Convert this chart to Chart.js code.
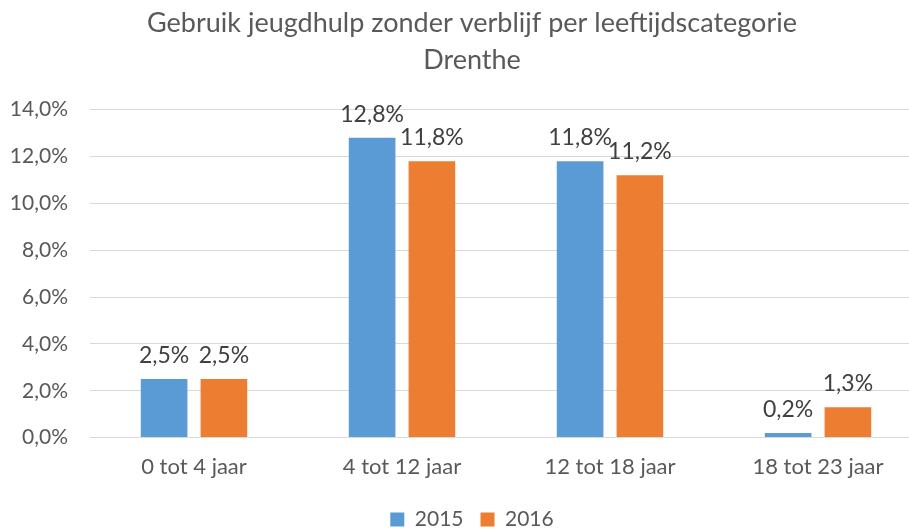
<!DOCTYPE html>
<html>
<head>
<meta charset="utf-8">
<script src="https://cdn.jsdelivr.net/npm/chart.js@4"></script>
<style>
  html, body { margin: 0; padding: 0; background: #fff; overflow: hidden; }
  .wrap { width: 944px; height: 531px; }
</style>
</head>
<body>
<div class="wrap"><canvas id="myChart"></canvas></div>
<script>
const categories = ['0 tot 4 jaar', '4 tot 12 jaar', '12 tot 18 jaar', '18 tot 23 jaar'];
const values2015 = [2.5, 12.8, 11.8, 0.2];
const values2016 = [2.5, 11.8, 11.2, 1.3];
const yTicks = [0, 2, 4, 6, 8, 10, 12, 14];

const FONT = 'Lato, "Open Sans", sans-serif';

function pct(v) {
    return v.toFixed(1).replace('.', ',') + '%';
}

// draws the value labels above each bar
const barLabels = {
    id: 'barLabels',
    afterDatasetsDraw(chart) {
        const ctx = chart.ctx;
        ctx.save();
        ctx.font = '23px ' + FONT;
        ctx.fillStyle = '#404040';
        ctx.textAlign = 'center';
        ctx.textBaseline = 'bottom';
        chart.data.datasets.forEach((ds, i) => {
            chart.getDatasetMeta(i).data.forEach((bar, j) => {
                ctx.fillText(pct(ds.data[j]), bar.x, bar.y - 12);
            });
        });
        ctx.restore();
    }
};

const ctx = document.getElementById('myChart').getContext('2d');
const myChart = new Chart(ctx, {
    type: 'bar',
    data: {
        labels: categories,
        datasets: [{
            label: '2015',
            data: values2015,
            backgroundColor: '#5B9BD5',
            categoryPercentage: 0.575,
            barPercentage: 0.78
        }, {
            label: '2016',
            data: values2016,
            backgroundColor: '#ED7D31',
            categoryPercentage: 0.575,
            barPercentage: 0.78
        }]
    },
    options: {
        responsive: true,
        maintainAspectRatio: false,
        animation: false,
        layout: { padding: { left: 0, right: 0, top: 4, bottom: -9 } },
        plugins: {
            title: {
                display: true,
                text: ['Gebruik jeugdhulp zonder verblijf per leeftijdscategorie', 'Drenthe'],
                color: '#595959',
                font: { family: FONT, size: 27, weight: 'normal', lineHeight: 1.4 },
                padding: { top: 0, bottom: 30 }
            },
            legend: {
                position: 'bottom',
                labels: {
                    color: '#595959',
                    font: { family: FONT, size: 21 },
                    boxWidth: 14,
                    boxHeight: 14,
                    padding: 17
                }
            },
            tooltip: { enabled: false }
        },
        scales: {
            x: {
                afterFit: axis => { axis.height += 4; },
                grid: { display: false },
                border: { color: '#D9D9D9', width: 1 },
                ticks: {
                    color: '#595959',
                    font: { family: FONT, size: 22 },
                    padding: 8
                }
            },
            y: {
                min: 0,
                max: 14,
                afterBuildTicks: axis => { axis.ticks = yTicks.map(v => ({ value: v })); },
                afterFit: axis => { axis.width = 90; },
                grid: { color: '#D9D9D9', drawTicks: false },
                border: { display: false },
                ticks: {
                    color: '#595959',
                    font: { family: FONT, size: 21 },
                    padding: 22,
                    callback: v => pct(v)
                }
            },
            // empty right-hand spacer, keeps the plot narrower than the title and legend
            y2: {
                position: 'right',
                afterFit: axis => { axis.width = 22; },
                grid: { display: false },
                border: { display: false },
                ticks: { display: false }
            }
        }
    },
    plugins: [barLabels]
});
</script>
</body>
</html>
